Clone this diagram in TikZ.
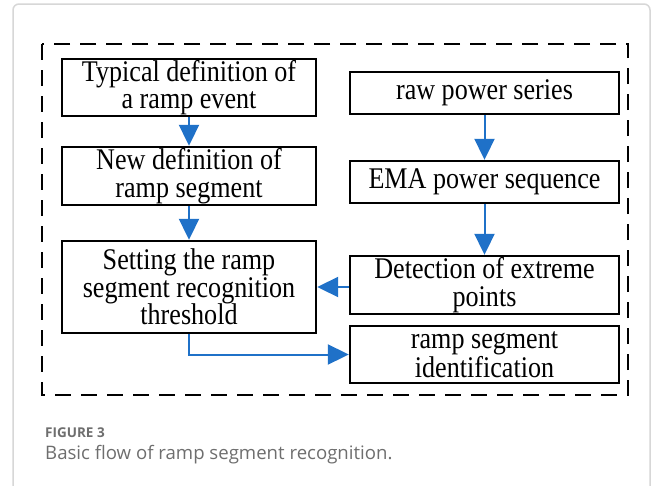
\documentclass[tikz,border=0pt]{standalone}
\usepackage{fontspec}
\setmainfont{Liberation Serif}
\newfontfamily\boxfont[FakeStretch=0.87]{Liberation Serif}
\newfontfamily\capfont{Open Sans}
\usetikzlibrary{arrows.meta}
\definecolor{flowblue}{RGB}{31,113,200}
\definecolor{framegray}{RGB}{215,215,215}
\definecolor{capgray}{RGB}{110,110,110}
\tikzset{
  box/.style={draw=black, line width=2.4pt, inner sep=0pt, align=center,
    font=\boxfont\fontsize{30}{27.5}\selectfont},
  flow/.style={draw=flowblue, line width=2pt, -{Triangle[width=20pt,length=21pt]}},
  outerdash/.style={draw=black, line width=2.6pt, dash pattern=on 16pt off 10pt},
}
\begin{document}
\begin{tikzpicture}[x=1pt,y=-1pt]
\clip (0,0) rectangle (656,485);
\useasboundingbox (0,0) rectangle (656,485);
\fill[white] (0,0) rectangle (656,485);
% figure frame
\draw[framegray, line width=1.5pt, rounded corners=6pt] (13,4) rectangle (650,520);
% dashed group
\draw[outerdash] (42,44) rectangle (628,395);
% boxes
\node[box, minimum width=254pt, minimum height=57pt] (b1) at (189,87.5) {Typical definition of\\a ramp event};
\node[box, minimum width=254pt, minimum height=58pt] (b2) at (189,176) {New definition of\\ramp segment};
\node[box, minimum width=254pt, minimum height=92pt] (b3) at (189,287) {Setting the ramp\\segment recognition\\threshold};
\node[box, minimum width=269pt, minimum height=42pt] (r1) at (484.5,93) {raw power series};
\node[box, minimum width=269pt, minimum height=42pt] (r2) at (484.5,182) {EMA power sequence};
\node[box, minimum width=269pt, minimum height=58pt] (r3) at (484.5,285) {Detection of extreme\\points};
\node[box, minimum width=269pt, minimum height=57pt] (r4) at (484.5,354.5) {ramp segment\\identification};
% connectors
\draw[flow] (b1.south) -- (b2.north);
\draw[flow] (b2.south) -- (b3.north);
\draw[flow] (r1.south) -- (r2.north);
\draw[flow] (r2.south) -- (r3.north);
\draw[flow] (r3.west |- 0,287) -- (b3.east |- 0,287);
\draw[flow] (b3.south) |- (r4.west);
% caption
\node[anchor=base west, inner sep=0pt, text=capgray, font=\capfont\fontsize{13.5}{15}\selectfont\bfseries] (cap1) at (45,437) {FIGURE 3};
\node[anchor=base west, inner sep=0pt, text=capgray, font=\capfont\fontsize{18.6}{20}\selectfont] (cap2) at (45,459) {Basic flow of ramp segment recognition.};
\end{tikzpicture}
\end{document}
